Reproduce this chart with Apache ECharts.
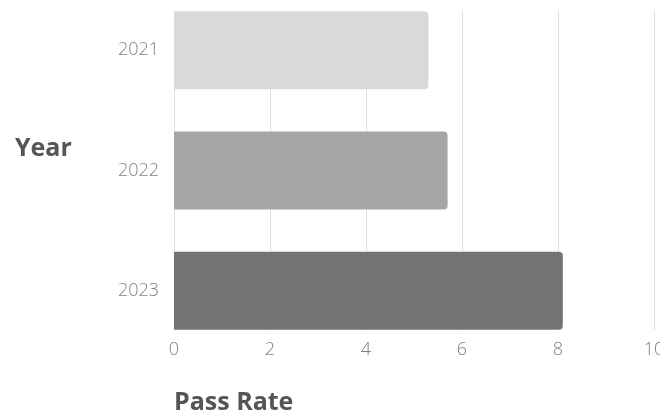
<!DOCTYPE html>
<html>
<head>
<meta charset="utf-8">
<script src="https://cdn.jsdelivr.net/npm/echarts@6/dist/echarts.min.js"></script>
<style>
html,body{margin:0;padding:0;background:#fff;}
#chart{width:660px;height:413px;}
</style>
</head>
<body>
<div id="chart"></div>
<script>
const years = ['2021', '2022', '2023'];
const passRates = [5.3, 5.7, 8.1];
const barColors = ['#d9d9d9', '#a6a6a6', '#737373'];
const xTicks = { min: 0, max: 10, interval: 2 };

const chart = echarts.init(document.getElementById('chart'), null, { renderer: 'canvas' });
const font = '"Open Sans", sans-serif';

chart.setOption({
  animation: false,
  backgroundColor: '#ffffff',
  title: [
    { text: 'Year', left: 15, top: 136, padding: 0, textStyle: { fontFamily: font, fontWeight: 'bold', fontSize: 25, color: '#555555' } },
    { text: 'Pass Rate', left: 174, top: 390, padding: 0, textStyle: { fontFamily: font, fontWeight: 'bold', fontSize: 25, color: '#555555' } }
  ],
  grid: [
    { left: 174, width: 480, top: -10, height: 361, containLabel: false, outerBoundsMode: 'none' },
    { left: 174, width: 480, top: 11, height: 319, containLabel: false, outerBoundsMode: 'none' }
  ],
  xAxis: [
    { gridIndex: 0, type: 'value', min: xTicks.min, max: xTicks.max, interval: xTicks.interval, show: false },
    {
      gridIndex: 1, type: 'value', min: xTicks.min, max: xTicks.max, interval: xTicks.interval,
      axisLine: { show: false }, axisTick: { show: false },
      splitLine: { show: true, lineStyle: { color: '#e0e0e0', width: 1 } },
      axisLabel: { margin: 11, fontFamily: font, fontSize: 18, fontWeight: 300, color: '#808080' }
    }
  ],
  yAxis: [
    {
      gridIndex: 0, type: 'category', data: years, inverse: true,
      axisLine: { show: false }, axisTick: { show: false }, splitLine: { show: false },
      axisLabel: { margin: 15, fontFamily: font, fontSize: 18, fontWeight: 300, color: '#808080' }
    },
    { gridIndex: 1, type: 'value', show: false, min: 0, max: 1 }
  ],
  series: [
    {
      type: 'bar', xAxisIndex: 0, yAxisIndex: 0, barWidth: 78,
      data: passRates.map((v, i) => ({ value: v, itemStyle: { color: barColors[i] } })),
      itemStyle: { borderRadius: [0, 4, 4, 0] }
    }
  ]
});
</script>
</body>
</html>
